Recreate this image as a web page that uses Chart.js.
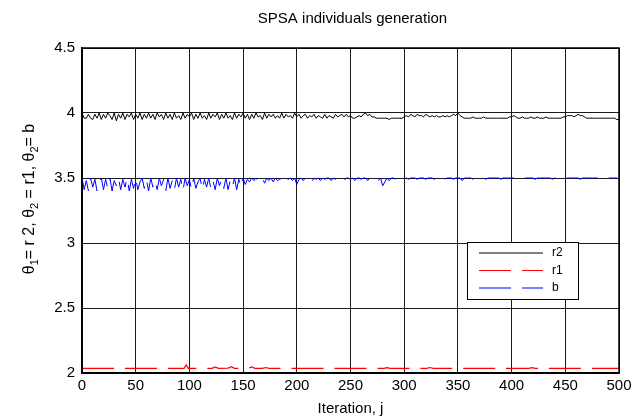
<!DOCTYPE html>
<html>
<head>
<meta charset="utf-8">
<script src="https://cdn.jsdelivr.net/npm/chart.js@4/dist/chart.umd.min.js"></script>
<style>
  body { margin: 0; background: #fff; }
</style>
</head>
<body>
<canvas id="chart" width="642" height="419"></canvas>
<script>
// iterations for r2 and b (every 2nd iteration)
const iters = [];
for (let i = 0; i <= 500; i += 2) iters.push(i);

// theta_1 = r2
const r2 = [
  4.00,3.96,3.96,3.99,3.96,3.95,3.99,3.96,4.00,3.95,
  3.99,3.96,4.00,3.98,3.95,4.00,3.94,3.99,3.96,4.00,
  3.95,3.99,3.97,4.00,3.95,3.99,3.96,4.00,3.95,3.99,
  3.96,4.00,3.96,3.99,3.95,4.00,3.97,3.99,3.95,4.00,
  3.96,3.99,3.95,4.00,3.96,3.98,3.95,4.00,3.96,3.99,
  3.97,4.00,3.95,3.99,3.96,4.00,3.96,3.98,3.95,4.00,
  3.96,3.99,3.97,4.00,3.95,3.99,3.96,4.00,3.96,3.98,
  3.95,4.00,3.96,3.99,3.97,4.00,3.96,3.99,3.95,3.99,
  3.96,4.00,3.97,3.98,3.95,4.00,3.96,3.99,3.97,3.99,
  3.96,3.98,3.96,4.00,3.96,3.99,3.97,3.98,3.96,4.00,
  3.97,3.99,3.96,3.98,3.99,3.96,3.98,3.97,3.99,3.96,
  3.98,3.97,3.96,3.99,3.96,3.98,3.97,3.96,3.99,3.97,
  3.98,3.99,3.97,3.99,3.97,3.98,3.96,3.96,3.97,3.98,
  3.97,3.99,4.00,3.98,3.99,3.97,3.97,3.96,3.96,3.96,
  3.96,3.96,3.96,3.95,3.96,3.96,3.96,3.96,3.96,3.96,
  3.97,3.98,3.97,3.99,3.98,3.97,3.99,3.98,3.98,3.97,
  3.99,3.98,3.97,3.98,3.97,3.98,3.97,3.97,3.98,3.97,
  3.98,3.97,3.98,3.99,3.98,4.00,3.98,3.97,3.96,3.96,
  3.96,3.96,3.97,3.96,3.96,3.96,3.96,3.97,3.96,3.96,
  3.96,3.96,3.96,3.96,3.96,3.96,3.96,3.96,3.96,3.97,
  3.97,3.98,3.97,3.96,3.96,3.97,3.96,3.96,3.96,3.97,
  3.96,3.96,3.97,3.96,3.96,3.96,3.97,3.96,3.96,3.96,
  3.96,3.96,3.96,3.96,3.97,3.97,3.98,3.98,3.98,3.97,
  3.98,3.99,3.98,3.98,3.97,3.96,3.96,3.96,3.96,3.96,
  3.96,3.96,3.96,3.96,3.96,3.96,3.96,3.96,3.96,3.95,
  3.95
];

// theta_2 = b
const b = [
  3.50,3.41,3.48,3.40,3.50,3.43,3.49,3.40,3.47,3.50,
  3.41,3.49,3.42,3.50,3.40,3.48,3.44,3.50,3.41,3.49,
  3.43,3.50,3.40,3.49,3.42,3.50,3.41,3.47,3.50,3.42,
  3.49,3.40,3.50,3.43,3.48,3.41,3.50,3.44,3.49,3.40,
  3.50,3.42,3.48,3.41,3.50,3.43,3.49,3.40,3.50,3.44,
  3.49,3.41,3.50,3.42,3.47,3.50,3.41,3.49,3.43,3.50,
  3.42,3.48,3.41,3.50,3.44,3.49,3.42,3.50,3.41,3.48,
  3.43,3.50,3.41,3.49,3.43,3.50,3.45,3.49,3.47,3.50,
  3.48,3.50,3.47,3.49,3.50,3.46,3.50,3.48,3.50,3.47,
  3.50,3.48,3.49,3.50,3.47,3.50,3.49,3.50,3.48,3.50,
  3.45,3.49,3.50,3.48,3.50,3.49,3.50,3.47,3.50,3.49,
  3.50,3.48,3.50,3.49,3.50,3.50,3.48,3.50,3.49,3.50,
  3.49,3.50,3.48,3.50,3.50,3.49,3.50,3.48,3.50,3.50,
  3.49,3.50,3.50,3.48,3.50,3.49,3.50,3.50,3.48,3.50,
  3.44,3.47,3.50,3.48,3.50,3.50,3.49,3.50,3.50,3.49,
  3.50,3.50,3.49,3.50,3.50,3.50,3.49,3.50,3.50,3.50,
  3.49,3.50,3.50,3.50,3.49,3.50,3.50,3.50,3.50,3.49,
  3.50,3.50,3.50,3.49,3.50,3.50,3.50,3.48,3.50,3.50,
  3.50,3.50,3.49,3.50,3.50,3.50,3.50,3.50,3.49,3.50,
  3.50,3.50,3.50,3.50,3.50,3.49,3.50,3.50,3.50,3.50,
  3.50,3.50,3.49,3.50,3.50,3.50,3.50,3.50,3.50,3.50,
  3.50,3.49,3.50,3.50,3.50,3.50,3.50,3.50,3.50,3.49,
  3.50,3.50,3.50,3.50,3.50,3.50,3.50,3.50,3.50,3.50,
  3.50,3.50,3.49,3.50,3.50,3.50,3.50,3.50,3.50,3.50,
  3.50,3.50,3.50,3.50,3.50,3.50,3.50,3.50,3.50,3.50,
  3.49
];

// theta_2 = r1 (almost flat, a few small bumps)
const itersR1 = [0, 95, 97, 99, 121, 124, 127, 136, 139, 142, 155, 158, 161, 168, 171, 174,
                 281, 284, 287, 321, 324, 327, 389, 392, 395, 416, 419, 422, 500];
const r1 = [2.036, 2.036, 2.062, 2.036, 2.036, 2.046, 2.036, 2.038, 2.048, 2.036, 2.036, 2.046, 2.036, 2.036, 2.042, 2.036,
            2.036, 2.041, 2.036, 2.036, 2.042, 2.036, 2.036, 2.041, 2.036, 2.036, 2.041, 2.036, 2.036];

const seriesNames = ['r2', 'r1', 'b'];
const xTicks = [0, 50, 100, 150, 200, 250, 300, 350, 400, 450, 500];
const yTicks = [2, 2.5, 3, 3.5, 4, 4.5];

const font = "'Liberation Sans', Arial, Helvetica, sans-serif";

function pts(xs, ys) {
  return xs.map((x, i) => ({ x: x, y: ys[i] }));
}

// title over the axes, y label with subscripts, MATLAB style legend box
const matlabBits = {
  id: 'matlabBits',
  afterDatasetsDraw(chart) {
    const ctx = chart.ctx;
    const area = chart.chartArea;
    const bx = area.right - 152, by = area.top + 194, bw = 111, bh = 57;
    ctx.save();
    ctx.fillStyle = '#fff';
    ctx.fillRect(bx, by, bw, bh);
    ctx.strokeStyle = '#000';
    ctx.lineWidth = 1;
    ctx.strokeRect(bx + 0.5, by + 0.5, bw, bh);
    ctx.font = '12px ' + font;
    ctx.textBaseline = 'middle';
    chart.data.datasets.forEach((ds, i) => {
      const y = by + 11 + i * 17.5;
      ctx.strokeStyle = ds.borderColor;
      ctx.lineWidth = 1;
      ctx.setLineDash(ds.borderDash || []);
      ctx.beginPath();
      ctx.moveTo(bx + 12, y);
      ctx.lineTo(bx + 76, y);
      ctx.stroke();
      ctx.setLineDash([]);
      ctx.fillStyle = '#000';
      ctx.fillText(seriesNames[i], bx + 85, y);
    });
    ctx.restore();
  },
  afterDraw(chart) {
    const ctx = chart.ctx;
    const a = chart.chartArea;
    ctx.save();
    ctx.strokeStyle = '#000';
    ctx.lineWidth = 1.5;
    ctx.strokeRect(a.left, a.top, a.right - a.left, a.bottom - a.top);

    // title
    ctx.fillStyle = '#000';
    ctx.font = '15px ' + font;
    ctx.textAlign = 'center';
    ctx.textBaseline = 'middle';
    ctx.fillText('SPSA individuals generation', (a.left + a.right) / 2 + 2, 19);

    // y label: θ1= r 2, θ2 = r1, θ2= b
    const parts = [['θ', 0], ['1', 1], ['= r 2, θ', 0], ['2', 1], [' = r1, θ', 0], ['2', 1], ['= b', 0]];
    const big = '16px ' + font, small = '11px ' + font;
    let total = 0;
    parts.forEach(p => { ctx.font = p[1] ? small : big; total += ctx.measureText(p[0]).width; });
    ctx.translate(28, 199);
    ctx.rotate(-Math.PI / 2);
    ctx.textAlign = 'left';
    ctx.textBaseline = 'alphabetic';
    let x = -total / 2;
    parts.forEach(p => {
      ctx.font = p[1] ? small : big;
      ctx.fillText(p[0], x, p[1] ? 10 : 6);
      x += ctx.measureText(p[0]).width;
    });
    ctx.restore();
  }
};

new Chart(document.getElementById('chart'), {
  type: 'line',
  data: {
    datasets: [
      { label: 'r2', data: pts(iters, r2), borderColor: '#000000', borderWidth: 1 },
      { label: 'r1', data: pts(itersR1, r1), borderColor: '#ff0000', borderWidth: 1.2, borderDash: [32, 11] },
      { label: 'b', data: pts(iters, b), borderColor: '#0000ff', borderWidth: 1, borderDash: [32, 11] }
    ]
  },
  options: {
    responsive: false,
    animation: false,
    layout: { padding: { left: 0, right: 23, top: 48, bottom: 0 } },
    elements: { point: { radius: 0 }, line: { tension: 0 } },
    plugins: {
      legend: { display: false },
      tooltip: { enabled: false },
      title: { display: false }
    },
    scales: {
      x: {
        type: 'linear',
        min: 0,
        max: 500,
        afterBuildTicks: s => { s.ticks = xTicks.map(v => ({ value: v })); },
        afterFit: s => { s.height = 46; },
        grid: { color: '#1a1a1a', lineWidth: 1, drawTicks: false },
        border: { display: true, color: '#000', width: 1.5 },
        ticks: { color: '#000', padding: 4, maxRotation: 0, font: { family: font, size: 15 } },
        title: {
          display: true,
          text: 'Iteration, j',
          color: '#000',
          font: { family: font, size: 15 },
          padding: { top: 0, bottom: 1 }
        }
      },
      y: {
        min: 2,
        max: 4.5,
        afterBuildTicks: s => { s.ticks = yTicks.map(v => ({ value: v })); },
        afterFit: s => { s.width = 82; },
        grid: { color: '#1a1a1a', lineWidth: 1, drawTicks: false },
        border: { display: true, color: '#000', width: 1.5 },
        ticks: { color: '#000', padding: 7, font: { family: font, size: 15 }, callback: v => String(v) }
      }
    }
  },
  plugins: [matlabBits]
});
</script>
</body>
</html>
